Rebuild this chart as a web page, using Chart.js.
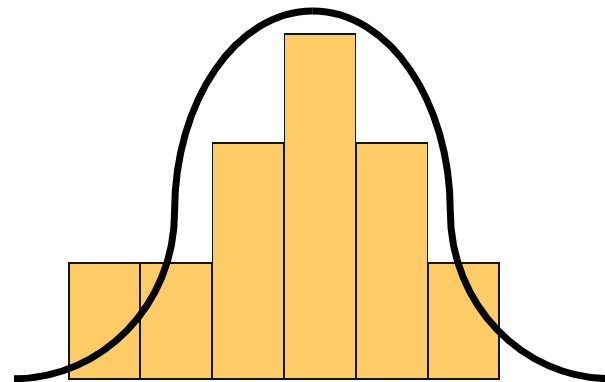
<!DOCTYPE html>
<html>
<head>
<meta charset="utf-8">
<script src="https://cdn.jsdelivr.net/npm/chart.js@4.4.1/dist/chart.umd.min.js"></script>
<style>
  html, body { margin: 0; padding: 0; background: #ffffff; }
  canvas { display: block; }
</style>
</head>
<body>
<canvas id="chart" width="605" height="382"></canvas>
<script>
// Histogram bins (bin centre) and their frequencies
const binCenters = [1, 2, 3, 4, 5, 6];
const frequencies = [11.8, 11.8, 23.8, 34.7, 23.8, 11.8];

// Key points of the fitted bell curve: tails, inflection points, peak
const curveX = [-0.25, 1.98, 3.9, 5.81, 8.04];
const curveY = [0.13, 16.8, 36.9, 16.8, 0.13];

const barData = binCenters.map((x, i) => ({ x: x, y: frequencies[i] }));
const curveData = curveX.map((x, i) => ({ x: x, y: curveY[i] }));

// Draws the bell curve as quarter-ellipse arcs between its key points
const bellCurve = {
  id: 'bellCurve',
  afterDatasetsDraw(chart) {
    const pts = chart.getDatasetMeta(1).data;
    const ctx = chart.ctx;
    const k = 0.5523;
    ctx.save();
    ctx.strokeStyle = '#000000';
    ctx.lineWidth = 7;
    ctx.lineCap = 'butt';
    for (let i = 0; i < pts.length - 1; i++) {
      const a = pts[i], b = pts[i + 1];
      const dx = b.x - a.x, dy = b.y - a.y;
      ctx.beginPath();
      ctx.moveTo(a.x, a.y);
      if (i % 2 === 0) {
        ctx.bezierCurveTo(a.x + k * dx, a.y, b.x, b.y - k * dy, b.x, b.y);
      } else {
        ctx.bezierCurveTo(a.x, a.y + k * dy, b.x - k * dx, b.y, b.x, b.y);
      }
      ctx.stroke();
    }
    ctx.restore();
  }
};

const lastBin = binCenters.length - 1;

new Chart(document.getElementById('chart'), {
  type: 'bar',
  data: {
    datasets: [
      {
        type: 'bar',
        data: barData,
        backgroundColor: '#FECC66',
        borderColor: '#151515',
        borderWidth: (c) => ({
          top: 2,
          bottom: 2,
          left: c.dataIndex === 0 ? 2 : 1,
          right: c.dataIndex === lastBin ? 2 : 1
        }),
        borderSkipped: false,
        inflateAmount: 0,
        barPercentage: 1,
        categoryPercentage: 1
      },
      {
        type: 'line',
        data: curveData,
        showLine: false,
        pointRadius: 0,
        pointHoverRadius: 0
      }
    ]
  },
  options: {
    responsive: false,
    animation: false,
    events: [],
    layout: { padding: { left: 0, right: 0, top: 0, bottom: 2 } },
    plugins: {
      legend: { display: false },
      tooltip: { enabled: false }
    },
    scales: {
      x: {
        type: 'linear', min: -4 / 9, max: -4 / 9 + 605 / 72, offset: false, display: false,
        ticks: { stepSize: 1, includeBounds: false }
      },
      y: { min: 0, max: 38, display: false }
    }
  },
  plugins: [bellCurve]
});
</script>
</body>
</html>
